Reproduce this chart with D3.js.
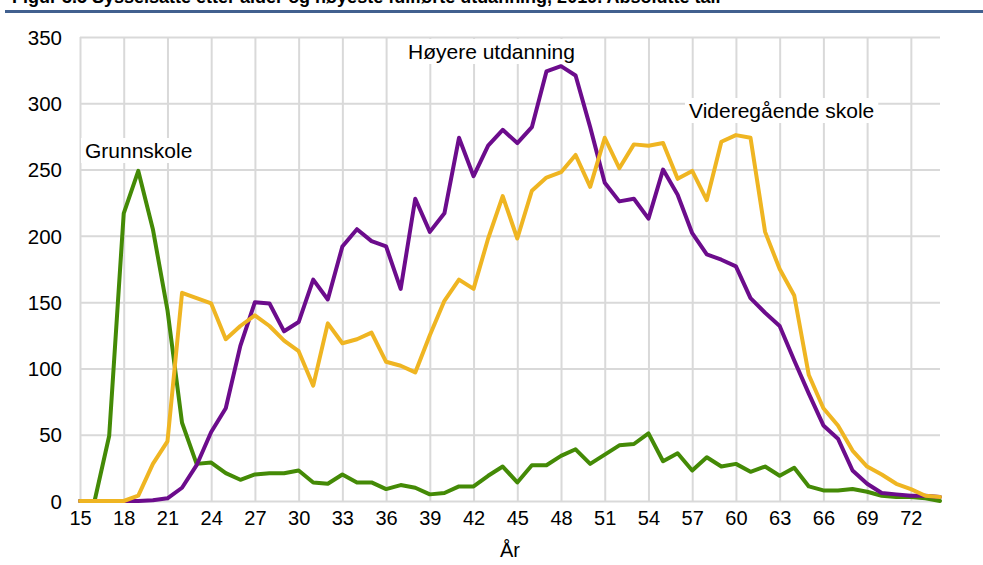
<!DOCTYPE html>
<html>
<head>
<meta charset="utf-8">
<script src="https://cdn.jsdelivr.net/npm/d3@7"></script>
<style>
  body { margin: 0; background: #fff; }
  text { font-family: "Liberation Sans", Arial, sans-serif; fill: #000; }
  .grid line { stroke: #d9d9d9; stroke-width: 2; }
  .grid .domain { display: none; }
  .plot-line { fill: none; stroke-width: 4; stroke-linejoin: round; stroke-linecap: round; }
</style>
</head>
<body>
<svg id="line-plot"></svg>
<script>
const ages = [15, 16, 17, 18, 19, 20, 21, 22, 23, 24, 25, 26, 27, 28, 29, 30, 31, 32, 33, 34,
  35, 36, 37, 38, 39, 40, 41, 42, 43, 44, 45, 46, 47, 48, 49, 50, 51, 52, 53, 54,
  55, 56, 57, 58, 59, 60, 61, 62, 63, 64, 65, 66, 67, 68, 69, 70, 71, 72, 73, 74];

const grunnskole = [0, 0, 49, 217, 249, 205, 144, 59, 28, 29, 21, 16, 20, 21, 21, 23, 14, 13, 20, 14,
  14, 9, 12, 10, 5, 6, 11, 11, 19, 26, 14, 27, 27, 34, 39, 28, 35, 42, 43, 51,
  30, 36, 23, 33, 26, 28, 22, 26, 19, 25, 11, 8, 8, 9, 7, 4, 3, 3, 2, 0];

const videregaende = [0, 0, 0, 0, 4, 28, 45, 157, 153, 149, 122, 132, 140, 132, 121, 113, 87, 134, 119, 122,
  127, 105, 102, 97, 125, 151, 167, 160, 198, 230, 198, 234, 244, 248, 261, 237, 274, 251, 269, 268,
  270, 243, 249, 227, 271, 276, 274, 203, 175, 155, 95, 70, 57, 38, 26, 20, 13, 9, 4, 3];

const hoyere = [0, 0, 0, 0, 0, 0.5, 2, 10, 27, 52, 70, 117, 150, 149, 128, 135, 167, 152, 192, 205,
  196, 192, 160, 228, 203, 217, 274, 245, 268, 280, 270, 282, 324, 328, 321, 282, 240, 226, 228, 213,
  250, 231, 202, 186, 182, 177, 153, 142, 132, 106, 81, 57, 47, 23, 13, 6, 5, 4, 4, 3];

const xTicks = [15, 18, 21, 24, 27, 30, 33, 36, 39, 42, 45, 48, 51, 54, 57, 60, 63, 66, 69, 72];
const yTicks = [0, 50, 100, 150, 200, 250, 300, 350];

const series = [
  { name: "Grunnskole", values: grunnskole, color: "#448a06", label: [85, 158] },
  { name: "Høyere utdanning", values: hoyere, color: "#6c0c8c", label: [408, 59] },
  { name: "Videregående skole", values: videregaende, color: "#efb522", label: [689, 118] }
];

const width = 983;
const height = 565;
const svg = d3.select("#line-plot").attr("width", width).attr("height", height);

// Cropped figure title + rule
svg.append("text")
  .attr("x", 12)
  .attr("y", 3)
  .attr("font-size", "18px")
  .attr("font-weight", "bold")
  .text("Figur 3.5 Sysselsatte etter alder og høyeste fullførte utdanning, 2019. Absolutte tall");
svg.append("line")
  .attr("x1", 5).attr("x2", width)
  .attr("y1", 11.5).attr("y2", 11.5)
  .attr("stroke", "#41608f")
  .attr("stroke-width", 3);

const margin = { top: 37, bottom: 64, left: 80, right: 43 };
const innerWidth = width - margin.left - margin.right;
const innerHeight = height - margin.top - margin.bottom;

const xScale = d3.scaleLinear().domain([15, 74]).range([0, innerWidth]);
const yScale = d3.scaleLinear().domain([0, 350]).range([innerHeight, 0]);

const g = svg.append("g").attr("transform", `translate(${margin.left},${margin.top})`);

// grid + axes
const yAxisG = g.append("g")
  .attr("class", "grid")
  .call(d3.axisLeft(yScale).tickValues(yTicks).tickSize(-innerWidth).tickPadding(18));
yAxisG.selectAll("text").attr("font-size", "20.5px").attr("dy", "0.35em");

const xAxisG = g.append("g")
  .attr("class", "grid")
  .attr("transform", `translate(0,${innerHeight})`)
  .call(d3.axisBottom(xScale).tickValues(xTicks).tickSize(-innerHeight).tickPadding(10));
xAxisG.selectAll("text").attr("font-size", "20px");

g.append("text")
  .attr("x", xScale(44.5))
  .attr("y", innerHeight + 56)
  .attr("text-anchor", "middle")
  .attr("font-size", "20px")
  .text("År");

// lines
const lineGenerator = (values) => d3.line()
  .x((d, i) => xScale(ages[i]))
  .y((d) => yScale(d))(values);

series.forEach((s) => {
  g.append("path")
    .attr("class", "plot-line")
    .attr("stroke", s.color)
    .attr("d", lineGenerator(s.values));
});

// labels with white boxes
series.forEach((s) => {
  const t = svg.append("text")
    .attr("x", s.label[0])
    .attr("y", s.label[1])
    .attr("font-size", "21px")
    .text(s.name);
  const bb = t.node().getBBox();
  svg.insert("rect", () => t.node())
    .attr("x", bb.x - 4).attr("y", bb.y - 1)
    .attr("width", bb.width + 8).attr("height", bb.height + 2)
    .attr("fill", "#fff");
});
</script>
</body>
</html>
